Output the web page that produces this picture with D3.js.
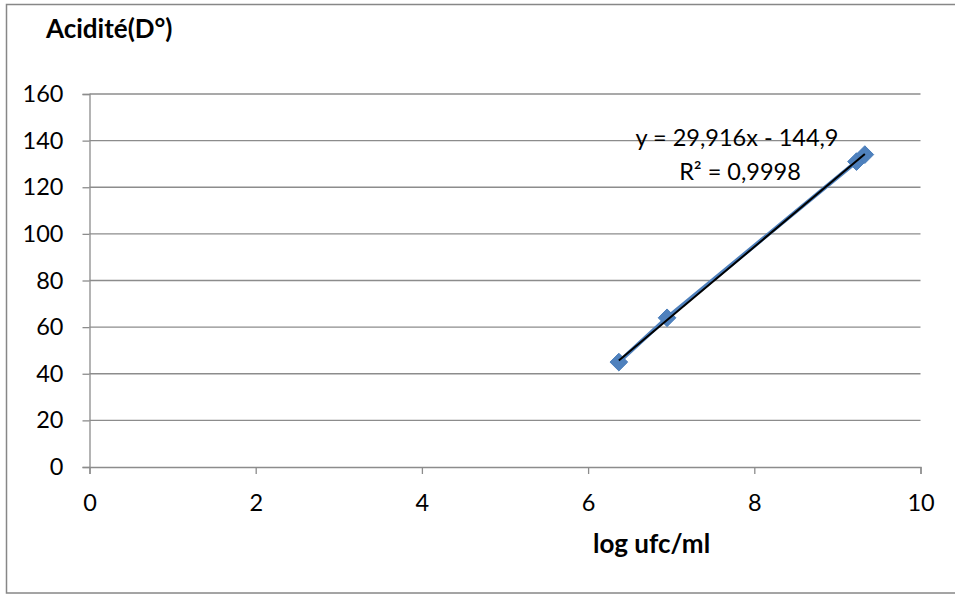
<!DOCTYPE html>
<html>
<head>
<meta charset="utf-8">
<script src="https://cdn.jsdelivr.net/npm/d3@7"></script>
<style>
  html, body { margin: 0; padding: 0; background: #fff; }
  svg { display: block; }
  text { font-family: Lato, "Open Sans", sans-serif; fill: #000; }
</style>
</head>
<body>
<svg id="chart" width="955" height="596"></svg>
<script>
// Measurements: log ufc/ml against acidity (°D)
const logUfc = [6.37, 6.95, 9.23, 9.33];
const acidite = [45, 64, 131, 134];

// Linear trendline as reported on the chart
const slope = 29.916;
const intercept = -144.9;
const r2 = 0.9998;

const xTicks = [0, 2, 4, 6, 8, 10];
const yTicks = [0, 20, 40, 60, 80, 100, 120, 140, 160];

const fmt = v => String(v).replace('.', ',');

const svg = d3.select('#chart');

// outer chart frame
svg.append('rect')
  .attr('x', 6.5).attr('y', 4.5)
  .attr('width', 960).attr('height', 588.5)
  .attr('fill', 'none').attr('stroke', '#878787').attr('stroke-width', 1.5);

const x = d3.scaleLinear().domain([0, 10]).range([89.5, 920.5]);
const y = d3.scaleLinear().domain([0, 160]).range([467, 94]);

// horizontal gridlines
svg.append('g')
  .selectAll('line')
  .data(yTicks.slice(1))
  .join('line')
  .attr('x1', x(0)).attr('x2', x(10))
  .attr('y1', d => y(d)).attr('y2', d => y(d))
  .attr('stroke', '#8c8c8c').attr('stroke-width', 1.3);

// y axis
const yAxis = svg.append('g')
  .attr('transform', `translate(${x(0)},0)`)
  .call(d3.axisLeft(y).tickValues(yTicks).tickSize(7).tickPadding(19).tickFormat(d => d));
yAxis.select('.domain').attr('stroke', '#8c8c8c').attr('stroke-width', 1.3);
yAxis.selectAll('.tick line').attr('stroke', '#8c8c8c').attr('stroke-width', 1.3);
yAxis.selectAll('text').style('font-size', '23.5px').attr('fill', '#000');

// x axis
const xAxis = svg.append('g')
  .attr('transform', `translate(0,${y(0)})`)
  .call(d3.axisBottom(x).tickValues(xTicks).tickSize(7).tickPadding(20).tickFormat(d => d));
xAxis.select('.domain').attr('stroke', '#8c8c8c').attr('stroke-width', 1.3);
xAxis.selectAll('.tick line').attr('stroke', '#8c8c8c').attr('stroke-width', 1.3);
xAxis.selectAll('text').style('font-size', '23.5px').attr('fill', '#000');

// series line
const pts = logUfc.map((v, i) => [v, acidite[i]]);
svg.append('path')
  .datum(pts)
  .attr('fill', 'none')
  .attr('stroke', '#4f81bd')
  .attr('stroke-width', 4)
  .attr('d', d3.line().x(d => x(d[0])).y(d => y(d[1])));

// diamond markers
const diamond = d3.symbol().type(d3.symbolDiamond2).size(200);
svg.append('g')
  .selectAll('path')
  .data(pts)
  .join('path')
  .attr('transform', d => `translate(${x(d[0])},${y(d[1])})`)
  .attr('d', diamond)
  .attr('fill', '#4f81bd')
  .attr('stroke', '#4a7ebb')
  .attr('stroke-width', 1);

// trendline across the measured range
const xMin = d3.min(logUfc), xMax = d3.max(logUfc);
svg.append('line')
  .attr('x1', x(xMin)).attr('y1', y(slope * xMin + intercept))
  .attr('x2', x(xMax)).attr('y2', y(slope * xMax + intercept))
  .attr('stroke', '#000').attr('stroke-width', 2);

// trendline equation
svg.append('text')
  .attr('x', 737).attr('y', 146)
  .attr('text-anchor', 'middle')
  .style('font-size', '23.5px')
  .text(`y = ${fmt(slope)}x - ${fmt(-intercept)}`);
svg.append('text')
  .attr('x', 740).attr('y', 180)
  .attr('text-anchor', 'middle')
  .style('font-size', '23.5px')
  .text(`R² = ${fmt(r2)}`);

// axis titles
svg.append('text')
  .attr('x', 46).attr('y', 38)
  .style('font-size', '26px').style('font-weight', 'bold')
  .text('Acidité(D°)');
svg.append('text')
  .attr('x', 593).attr('y', 553)
  .style('font-size', '26px').style('font-weight', 'bold')
  .text('log ufc/ml');
</script>
</body>
</html>
